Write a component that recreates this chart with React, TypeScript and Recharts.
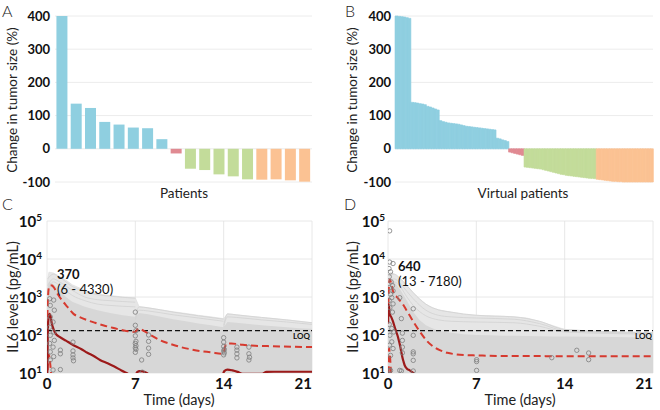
import React from 'react';
import {
  BarChart, Bar, Cell, XAxis, YAxis, CartesianGrid, ComposedChart, Line, Area, Scatter, ReferenceLine,
} from 'recharts';

const FONT = "Lato, 'Liberation Sans', sans-serif";

// ---------- Panel A: patients ----------
const patientValues = [400, 136, 123, 81, 73, 64, 62, 29, -14, -60, -64, -77, -83, -92, -93, -92, -95, -99];
const patientGroups = ['PD', 'PD', 'PD', 'PD', 'PD', 'PD', 'PD', 'PD', 'SD', 'PR', 'PR', 'PR', 'PR', 'PR', 'CR', 'CR', 'CR', 'CR'];

// ---------- Panel B: virtual patients ----------
const vpPD = [400, 399, 398, 397, 395, 393, 140, 139, 138, 136, 135, 133, 128, 126, 123, 120, 117,
  85, 82, 80, 78, 77, 76, 75, 74, 72, 70, 68, 67, 66, 65, 64, 63, 62, 61, 60, 59, 58, 57, 32, 30, 27, 25, 22];
const vpSD = [-10, -12, -14, -16, -18, -20];
const vpPR = [-55, -56, -57, -58, -59, -60, -61, -63, -65, -67, -69, -71, -73, -75, -77, -78, -80, -81, -82, -83,
  -84, -85, -86, -87, -88, -89, -89, -90];
const vpCR = [-92, -93, -94, -95, -96, -97, -98, -98, -99, -99, -100, -100, -100, -100, -100, -100, -100, -100,
  -100, -100, -100, -100];

const tumorTicks = [-100, 0, 100, 200, 300, 400];
const COLORS: Record<string, string> = { PD: '#8fcfe0', SD: '#e08a92', PR: '#c3dc9a', CR: '#fbc293' };

// ---------- Panel C: IL6 observed patients (3 doses) ----------
const cOuterT = [0, 0.02, 0.15, 0.5, 1, 1.5, 2, 3, 4, 5, 6, 6.99, 7.0, 7.3, 8, 9, 10, 11, 12, 13, 13.99, 14.0, 14.3, 15, 16, 17, 18, 19, 20, 21];
const cOuterV = [10, 2500, 4500, 4300, 3500, 2800, 2100, 1500, 1200, 1100, 1000, 950, 950, 560, 520, 460, 410, 370, 330, 300, 270, 270, 360, 340, 310, 290, 270, 250, 230, 210];
const cCoreV = [10, 1500, 2500, 2200, 1500, 1000, 750, 550, 450, 380, 330, 300, 300, 380, 350, 300, 260, 230, 200, 180, 160, 160, 220, 210, 195, 180, 170, 160, 150, 145];

const cSimA_T = [0.05, 0.5, 1, 2, 3, 4, 5, 6, 7];
const cSim1 = [3000, 4000, 3300, 1900, 1400, 1150, 1050, 980, 930];
const cSim2 = [2000, 3000, 2500, 1500, 1000, 850, 800, 760, 730];
const cSim3 = [1500, 2500, 2000, 1100, 800, 650, 600, 570, 550];
const cSimB_T = [7, 7.3, 8, 10, 12, 14];
const cSim4 = [300, 550, 520, 400, 320, 260];
const cSim5 = [250, 450, 430, 340, 280, 230];
const cSimC_T = [14, 14.3, 15, 17, 19, 21];
const cSim6 = [180, 360, 340, 290, 250, 210];
const cSim7 = [160, 300, 290, 250, 220, 190];

const cUpperT = [0.02, 0.04, 0.08, 0.15, 0.26, 0.4, 0.55, 0.8, 1.2, 1.6, 2.1, 2.6, 3.2, 3.8, 4.5, 5.2, 5.8, 6.4, 7.0, 7.05, 7.3, 7.7, 8.2, 9.0, 9.8, 10.6, 11.4, 12.1, 13.0, 13.9, 14.0, 14.2, 14.6, 15.5, 16.5, 17.5, 18.5, 19.5, 21];
const cUpperV = [150, 400, 1000, 1780, 2040, 2000, 1780, 1260, 810, 560, 360, 295, 245, 210, 178, 155, 138, 126, 120, 126, 148, 126, 100, 72, 58, 48, 42, 38, 35, 32, 35, 59, 60, 55, 52, 51, 50, 49, 48];
const cLowerT = [0.03, 0.08, 0.15, 0.25, 0.35];
const cLowerV = [6, 22, 30, 18, 8];
const cMedT = [0.02, 0.06, 0.12, 0.2, 0.28, 0.38, 0.5, 0.7, 1.0, 1.5, 2.1, 2.7, 3.2, 3.7, 4.2, 4.8, 5.3, 5.9, 6.3, 6.6, 7.0, 7.15, 7.35, 7.6, 7.9, 8.2, 13.9, 14.05, 14.3, 14.7, 15.1, 15.5, 17.0, 17.4, 18, 19, 20, 21];
const cMedV = [8, 100, 280, 360, 316, 200, 148, 107, 89, 71, 54, 43, 34, 28, 22, 18, 15, 11.7, 10, 8.9, 8.9, 10.5, 11.2, 11, 10, 8.9, 8.9, 11.2, 12.3, 11.7, 10.7, 9.5, 9.5, 10.7, 10.8, 10.8, 10.8, 10.8];

const cObsT = [0.21, 0.53, 0.26, 0.58, 0.26, 0.48, 0.21, 0.53, 0.26, 0.58, 0.21, 0.48, 0.26, 0.53, 0.26, 0.48,
  1.06, 1.06, 1.06, 2.06, 2.06, 2.06, 2.06, 2.1,
  7.0, 7.0, 7.05, 7.0, 7.05, 7.0, 7.05, 7.0, 7.05, 7.0, 7.5, 7.55,
  8.05, 8.05, 8.05, 8.05, 14.0, 14.0, 14.0, 14.05, 14.0, 14.05, 14.0,
  15.05, 15.05, 15.05, 15.05, 16.0, 16.0, 16.05, 16.0];
const cObsV = [900, 830, 600, 450, 300, 220, 160, 120, 98, 72, 60, 48, 36, 27, 22, 12,
  40, 32, 12.3, 65, 38, 30, 25, 21,
  400, 180, 130, 95, 68, 60, 52, 46, 42, 35, 22, 10.5,
  100, 68, 45, 31, 85, 65, 50, 42, 38, 34, 30,
  48, 40, 32, 25, 48, 32, 26, 22];

// ---------- Panel D: IL6 virtual patients ----------
const dOuterT = [0, 0.02, 0.2, 0.5, 1, 1.5, 2, 2.5, 3, 3.5, 4, 5, 6, 7, 8, 9, 10, 11, 12, 13, 14, 16, 18, 21];
const dOuterV = [10, 3000, 4500, 4000, 3000, 2000, 1300, 900, 650, 520, 460, 400, 350, 330, 320, 310, 300, 280, 230, 180, 140, 125, 120, 115];
const dCoreV = [10, 2000, 3000, 2500, 1500, 800, 400, 250, 180, 150, 130, 115, 105, 100, 98, 96, 95, 94, 93, 92, 91, 90, 88, 85];

const dSimT = [0.05, 0.5, 1, 1.5, 2, 3, 4, 5, 7, 10, 12, 14, 21];
const dSim1 = [3500, 4000, 3000, 2000, 1300, 650, 460, 400, 330, 300, 230, 140, 115];
const dSim2 = [2500, 3000, 2200, 1400, 900, 450, 330, 300, 280, 260, 200, 130, 110];
const dSim3 = [2000, 2500, 1800, 1000, 600, 320, 250, 230, 220, 210, 170, 120, 105];

const dUpperT = [0.02, 0.06, 0.13, 0.26, 0.4, 0.53, 0.7, 0.93, 1.2, 1.46, 1.8, 2.1, 2.5, 3.05, 3.5, 4.1, 4.7, 5.4, 6.2, 7.0, 9, 12, 13, 15, 18, 21];
const dUpperV = [316, 1580, 2900, 2240, 1410, 1100, 1000, 810, 630, 450, 295, 200, 126, 72, 52, 40, 34, 31, 29.5, 29, 28, 28, 27.5, 27.5, 27.5, 27.5];
const dLowerT = [0.03, 0.08, 0.15, 0.25];
const dLowerV = [5, 45, 30, 8];
const dMedT = [0.01, 0.03, 0.08, 0.13, 0.26, 0.4, 0.53, 0.66, 0.79, 0.9, 0.98, 1.06, 1.14, 1.23, 1.32, 1.5, 1.72, 1.99, 2.2];
const dMedV = [200, 630, 560, 360, 295, 224, 162, 120, 89, 63, 48, 35, 26, 20, 16, 13, 11.7, 10, 8.9];

const dObsT = [0.13, 0.13, 0.4, 0.08, 0.2, 0.1, 0.25, 0.35, 0.12, 0.4, 0.2, 0.3, 0.1, 0.93, 0.4, 0.15, 0.35, 2.0, 1.06,
  0.1, 0.3, 0.45, 1.14, 0.15, 2.0, 1.14, 0.3, 0.12, 1.14, 0.4, 2.0, 2.0, 1.14, 0.2, 2.0, 0.1, 0.2, 0.93, 1.06, 2.0,
  7.02, 7.02, 7.02, 12.98, 14.96, 15.9, 15.9];
const dObsV = [55000, 8300, 7600, 5600, 4600, 3400, 2500, 2000, 1780, 1450, 1180, 960, 810, 960, 660, 525, 400, 490, 270,
  190, 148, 120, 112, 98, 98, 72, 66, 54, 48, 44, 36, 32, 34, 29, 21.5, 11.7, 11.7, 11.7, 11.3, 11.3,
  22.4, 20, 11.7, 25.3, 39.6, 33.6, 22.4];

const LOQ = 130;
const timeTicks = [0, 7, 14, 21];
const logTicks = [10, 100, 1000, 10000, 100000];

const zip = (t: number[], v: number[]) => t.map((x, i) => ({ t: x, v: v[i] }));

const dataA = patientValues.map((v, i) => ({ id: `P${i + 1}`, v, g: patientGroups[i] }));
const dataB = [
  ...vpPD.map((v) => ({ v, g: 'PD' })),
  ...vpSD.map((v) => ({ v, g: 'SD' })),
  ...vpPR.map((v) => ({ v, g: 'PR' })),
  ...vpCR.map((v) => ({ v, g: 'CR' })),
].map((d, i) => ({ ...d, id: `VP${i + 1}` }));

function LogTick(props: any) {
  const { x, y, payload } = props;
  const e = Math.round(Math.log10(payload.value));
  return (
    <text x={x} y={y} textAnchor="end" fill="#111" fontFamily={FONT} fontWeight={700}>
      <tspan fontSize={15} dy={6}>10</tspan>
      <tspan fontSize={10} dy={-6}>{e}</tspan>
    </text>
  );
}

function TimeTick(props: any) {
  const { x, y, payload } = props;
  const last = payload.value === 21;
  return (
    <text x={x} y={y} dy="0.71em" textAnchor={last ? 'end' : 'middle'} fill="#111" fontFamily={FONT} fontWeight={700} fontSize={15}>
      {payload.value}
    </text>
  );
}

const circleShape = (p: any) => (
  <circle cx={p.cx} cy={p.cy} r={2.2} fill="none" stroke="#7d7d7d" strokeWidth={0.8} />
);

const tumorTick = { fontSize: 13, fontWeight: 700, fill: '#111', fontFamily: FONT };

function IL6Panel(props: {
  outer: any[]; core: any[]; sims: any[][]; upper: any[]; lower: any[]; med: any[]; obs: any[];
  marginLeft: number; yWidth: number; tickSize: number; marginRight: number;
}) {
  const { outer, core, sims, upper, lower, med, obs } = props;
  return (
    <ComposedChart width={330} height={210} margin={{ top: 21, right: props.marginRight, bottom: 0, left: props.marginLeft }}>
      <CartesianGrid stroke="#e2e2e2" strokeWidth={0.8} />
      <XAxis type="number" dataKey="t" domain={[0, 21]} ticks={timeTicks} allowDataOverflow height={37}
        tickLine={false} axisLine={false} tickSize={3} tickMargin={2} tick={<TimeTick />} interval={0} />
      <YAxis type="number" dataKey="v" scale="log" domain={[10, 100000]} ticks={logTicks} allowDataOverflow
        width={props.yWidth} tickLine={false} axisLine={false} tickSize={props.tickSize} tickMargin={2} tick={<LogTick />} interval={0} />
      <Area data={outer} dataKey="v" type="linear" baseValue={10} fill="#e6e6e6" fillOpacity={1} stroke="#dcdcdc" strokeWidth={0.6} isAnimationActive={false} />
      {sims.map((s, i) => (
        <Line key={i} data={s} dataKey="v" type="monotone" stroke="#d2d2d2" strokeWidth={0.8} dot={false} isAnimationActive={false} />
      ))}
      <Area data={core} dataKey="v" type="linear" baseValue={10} fill="#d7d7d7" fillOpacity={1} stroke="none" isAnimationActive={false} />
      <Scatter data={obs} dataKey="v" shape={circleShape} isAnimationActive={false} />
      <ReferenceLine y={LOQ} stroke="#111" strokeWidth={1.3} strokeDasharray="5 3" />
      <Line data={lower} dataKey="v" type="monotone" stroke="#d63a2f" strokeWidth={2} strokeDasharray="7 4" dot={false} isAnimationActive={false} />
      <Line data={upper} dataKey="v" type="monotone" stroke="#d63a2f" strokeWidth={2} strokeDasharray="7 4" dot={false} isAnimationActive={false} />
      <Line data={med} dataKey="v" type="monotone" stroke="#9c1a1a" strokeWidth={2.2} dot={false} isAnimationActive={false} />
    </ComposedChart>
  );
}

export default function App() {
  const txt = { fontFamily: FONT, fill: '#222' } as const;
  return (
    <div style={{ position: 'absolute', left: 0, top: 0, width: 660, height: 410, background: '#fff', overflow: 'hidden' }}>
      <div style={{ position: 'absolute', left: 0, top: 0 }}>
        <BarChart width={330} height={200} data={dataA} margin={{ top: 16, right: 18, bottom: 18, left: 10 }} barCategoryGap="10%">
          <CartesianGrid vertical={false} stroke="#ececec" />
          <XAxis dataKey="id" hide />
          <YAxis domain={[-100, 400]} ticks={tumorTicks} width={45} axisLine={false} tickLine={false} tickSize={3} tickMargin={2} tick={tumorTick} interval={0} />
          <Bar dataKey="v" isAnimationActive={false}>
            {dataA.map((d, i) => <Cell key={i} fill={COLORS[d.g]} />)}
          </Bar>
        </BarChart>
      </div>
      <div style={{ position: 'absolute', left: 330, top: 0 }}>
        <BarChart width={330} height={200} data={dataB} margin={{ top: 16, right: 7, bottom: 18, left: 20 }} barCategoryGap={0} barGap={0}>
          <CartesianGrid vertical={false} stroke="#ececec" />
          <XAxis dataKey="id" hide />
          <YAxis domain={[-100, 400]} ticks={tumorTicks} width={45} axisLine={false} tickLine={false} tickSize={2} tickMargin={2} tick={tumorTick} interval={0} />
          <Bar dataKey="v" isAnimationActive={false}>
            {dataB.map((d, i) => <Cell key={i} fill={COLORS[d.g]} stroke={COLORS[d.g]} strokeWidth={0.6} />)}
          </Bar>
        </BarChart>
      </div>
      <div style={{ position: 'absolute', left: 0, top: 200 }}>
        <IL6Panel
          outer={zip(cOuterT, cOuterV)} core={zip(cOuterT, cCoreV)}
          sims={[zip(cSimA_T, cSim1), zip(cSimA_T, cSim2), zip(cSimA_T, cSim3), zip(cSimB_T, cSim4), zip(cSimB_T, cSim5), zip(cSimC_T, cSim6), zip(cSimC_T, cSim7)]}
          upper={zip(cUpperT, cUpperV)} lower={zip(cLowerT, cLowerV)} med={zip(cMedT, cMedV)} obs={zip(cObsT, cObsV)}
          marginLeft={4} yWidth={43} tickSize={3} marginRight={18}
        />
      </div>
      <div style={{ position: 'absolute', left: 330, top: 200 }}>
        <IL6Panel
          outer={zip(dOuterT, dOuterV)} core={zip(dOuterT, dCoreV)}
          sims={[zip(dSimT, dSim1), zip(dSimT, dSim2), zip(dSimT, dSim3)]}
          upper={zip(dUpperT, dUpperV)} lower={zip(dLowerT, dLowerV)} med={zip(dMedT, dMedV)} obs={zip(dObsT, dObsV)}
          marginLeft={10} yWidth={48} tickSize={1} marginRight={7}
        />
      </div>
      <svg width={660} height={410} style={{ position: 'absolute', left: 0, top: 0, pointerEvents: 'none' }}>
        <g {...txt} fontWeight={300} fontSize={16}>
          <text x={2} y={17}>A</text>
          <text x={345} y={17}>B</text>
          <text x={2} y={210}>C</text>
          <text x={344} y={210}>D</text>
        </g>
        <g {...txt} fontSize={13.5} textAnchor="middle">
          <text transform="translate(17,100) rotate(-90)">Change in tumor size (%)</text>
          <text transform="translate(357,100) rotate(-90)">Change in tumor size (%)</text>
          <text x={184} y={198}>Patients</text>
          <text x={523} y={198}>Virtual patients</text>
        </g>
        <g {...txt} fontSize={14.5} textAnchor="middle">
          <text transform="translate(18,297) rotate(-90)">IL6 levels (pg/mL)</text>
          <text transform="translate(358,297) rotate(-90)">IL6 levels (pg/mL)</text>
          <text x={179} y={405}>Time (days)</text>
          <text x={520} y={405}>Time (days)</text>
        </g>
        <g {...txt} fill="#111">
          <text x={57} y={279} fontSize={13} fontWeight={700}>370</text>
          <text x={57} y={294} fontSize={13}>(6 - 4330)</text>
          <text x={398} y={270.5} fontSize={13} fontWeight={700}>640</text>
          <text x={398} y={286} fontSize={13}>(13 - 7180)</text>
          <text x={310} y={339} fontSize={8} fontWeight={700} textAnchor="end">LOQ</text>
          <text x={652} y={339} fontSize={8} fontWeight={700} textAnchor="end">LOQ</text>
        </g>
      </svg>
    </div>
  );
}
